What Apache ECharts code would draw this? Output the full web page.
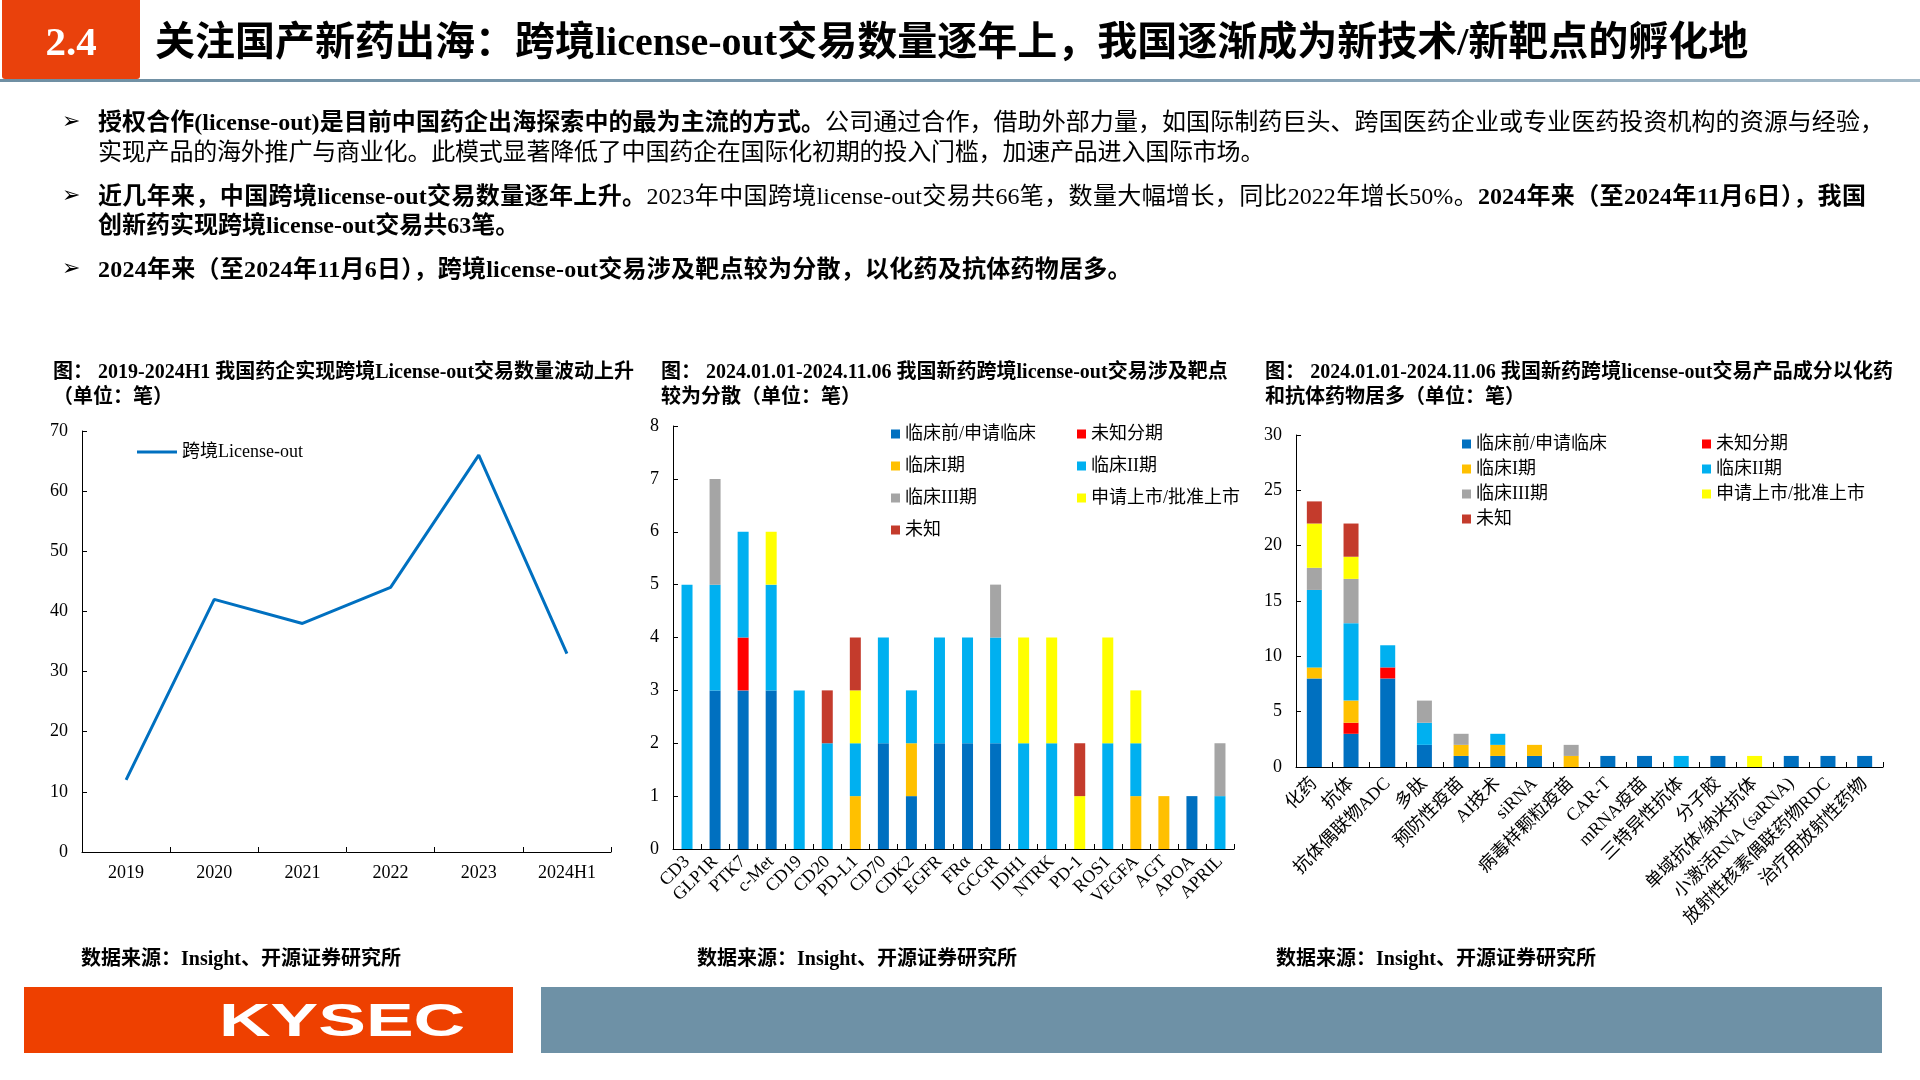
<!DOCTYPE html>
<html><head><meta charset="utf-8">
<script src="https://cdn.jsdelivr.net/npm/echarts@6/dist/echarts.min.js"></script>
<style>
html,body{margin:0;padding:0;}
body{width:1920px;height:1080px;overflow:hidden;background:#fff;position:relative;font-family:"Liberation Serif","Noto Sans CJK SC",serif;color:#000;}
#chart{position:absolute;left:0;top:0;width:1920px;height:1080px;}
.abs{position:absolute;white-space:nowrap;}
.hdrbox{left:2px;top:0;width:138px;height:79px;background:#E9410C;border-radius:0 0 3px 3px;}
.hdrnum{left:2px;top:0;width:138px;height:82px;line-height:82px;text-align:center;color:#fff;font-weight:bold;font-size:41px;font-family:"Liberation Serif",serif;}
.hdrline{left:0;top:79px;width:1920px;height:3px;background:linear-gradient(to right,#6f8fa3,#7d9bb0 60%,#a3b9c7);}
.hdrtitle{left:155px;top:17px;line-height:50px;font-size:40px;font-weight:bold;}
.bullet{font-family:"DejaVu Sans",sans-serif;font-size:22px;left:62px;line-height:26px;}
.body{left:98px;font-size:24px;line-height:30px;}
.just{text-align:justify;text-align-last:justify;}
b{font-weight:bold;}
.ctitle{font-size:20px;font-weight:bold;line-height:26px;}
.src{font-size:20px;font-weight:bold;line-height:26px;top:945px;}
.ftl{left:24px;top:987px;width:489px;height:66px;background:#EE4000;}
.ftr{left:541px;top:987px;width:1341px;height:66px;background:#6E91A6;}
.kysec{left:219px;top:987px;height:66px;line-height:66px;color:#fff;font-family:"Liberation Sans",sans-serif;font-weight:bold;font-size:47px;transform:scaleX(1.52);transform-origin:left center;}
</style></head>
<body>
<div id="chart"></div>

<div class="abs hdrbox"></div>
<div class="abs hdrnum">2.4</div>
<div class="abs hdrline"></div>
<div class="abs hdrtitle">关注国产新药出海：跨境license-out交易数量逐年上，我国逐渐成为新技术/新靶点的孵化地</div>

<div class="abs bullet" style="top:108px;">➢</div>
<div class="abs body just" style="top:107px;width:1786px;"><b>授权合作(license-out)是目前中国药企出海探索中的最为主流的方式。</b>公司通过合作，借助外部力量，如国际制药巨头、跨国医药企业或专业医药投资机构的资源与经验，</div>
<div class="abs body" style="top:137px;letter-spacing:-0.2px;">实现产品的海外推广与商业化。此模式显著降低了中国药企在国际化初期的投入门槛，加速产品进入国际市场。</div>

<div class="abs bullet" style="top:182px;">➢</div>
<div class="abs body just" style="top:181px;width:1768px;"><b>近几年来，中国跨境license-out交易数量逐年上升。</b>2023年中国跨境license-out交易共66笔，数量大幅增长，同比2022年增长50%。<b>2024年来（至2024年11月6日），我国</b></div>
<div class="abs body" style="top:210px;"><b>创新药实现跨境license-out交易共63笔。</b></div>

<div class="abs bullet" style="top:255px;">➢</div>
<div class="abs body" style="top:254px;letter-spacing:0.25px;"><b>2024年来（至2024年11月6日），跨境license-out交易涉及靶点较为分散，以化药及抗体药物居多。</b></div>

<div class="abs ctitle just" style="left:53px;top:358px;width:581px;">图： 2019-2024H1 我国药企实现跨境License-out交易数量波动上升</div>
<div class="abs ctitle" style="left:53px;top:383px;">（单位：笔）</div>

<div class="abs ctitle just" style="left:661px;top:358px;width:562px;">图： 2024.01.01-2024.11.06 我国新药跨境license-out交易涉及靶点</div>
<div class="abs ctitle" style="left:661px;top:383px;">较为分散（单位：笔）</div>

<div class="abs ctitle just" style="left:1265px;top:358px;width:628px;">图： 2024.01.01-2024.11.06 我国新药跨境license-out交易产品成分以化药</div>
<div class="abs ctitle" style="left:1265px;top:383px;">和抗体药物居多（单位：笔）</div>

<div class="abs src" style="left:81px;">数据来源：Insight、开源证券研究所</div>
<div class="abs src" style="left:697px;">数据来源：Insight、开源证券研究所</div>
<div class="abs src" style="left:1276px;">数据来源：Insight、开源证券研究所</div>

<div class="abs ftl"></div>
<div class="abs ftr"></div>
<div class="abs kysec">KYSEC</div>

<script>
// ---- Chart 1 data ----
const years = ['2019', '2020', '2021', '2022', '2023', '2024H1'];
const licenseOut = [12, 42, 38, 44, 66, 33];
const yTicks1 = [0, 10, 20, 30, 40, 50, 60, 70];

// ---- Stage series (shared) ----
const stageNames = ['临床前/申请临床', '未知分期', '临床I期', '临床II期', '临床III期', '申请上市/批准上市', '未知'];

// ---- Chart 2 data (targets) ----
const targets = ['CD3','GLP1R','PTK7','c-Met','CD19','CD20','PD-L1','CD70','CDK2','EGFR','FRα','GCGR','IDH1','NTRK','PD-1','ROS1','VEGFA','AGT','APOA','APRIL'];
const t_preclinical = [0,3,3,3,0,0,0,2,1,2,2,2,0,0,0,0,0,0,1,0];
const t_unknownPhase = [0,0,1,0,0,0,0,0,0,0,0,0,0,0,0,0,0,0,0,0];
const t_phase1 = [0,0,0,0,0,0,1,0,1,0,0,0,0,0,0,0,1,1,0,0];
const t_phase2 = [5,2,2,2,3,2,1,2,1,2,2,2,2,2,0,2,1,0,0,1];
const t_phase3 = [0,2,0,0,0,0,0,0,0,0,0,1,0,0,0,0,0,0,0,1];
const t_filing = [0,0,0,1,0,0,1,0,0,0,0,0,2,2,1,2,1,0,0,0];
const t_unknown = [0,0,0,0,0,1,1,0,0,0,0,0,0,0,1,0,0,0,0,0];
const yTicks2 = [0,1,2,3,4,5,6,7,8];

// ---- Chart 3 data (modalities) ----
const modalities = ['化药','抗体','抗体偶联物ADC','多肽','预防性疫苗','AI技术','siRNA','病毒样颗粒疫苗','CAR-T','mRNA疫苗','三特异性抗体','分子胶','单域抗体/纳米抗体','小激活RNA (saRNA)','放射性核素偶联药物RDC','治疗用放射性药物'];
const m_preclinical = [8,3,8,2,1,1,1,0,1,1,0,1,0,1,1,1];
const m_unknownPhase = [0,1,1,0,0,0,0,0,0,0,0,0,0,0,0,0];
const m_phase1 = [1,2,0,0,1,1,1,1,0,0,0,0,0,0,0,0];
const m_phase2 = [7,7,2,2,0,1,0,0,0,0,1,0,0,0,0,0];
const m_phase3 = [2,4,0,2,1,0,0,1,0,0,0,0,0,0,0,0];
const m_filing = [4,2,0,0,0,0,0,0,0,0,0,0,1,0,0,0];
const m_unknown = [2,3,0,0,0,0,0,0,0,0,0,0,0,0,0,0];
const yTicks3 = [0,5,10,15,20,25,30];

// ---- styling ----
const FONT = '"Liberation Serif","Noto Sans CJK SC",serif';
const stageColors = ['#0070C0', '#FF0000', '#FFC000', '#00B0F0', '#A5A5A5', '#FFFF00', '#C43B2C'];
const lineColor = '#0070C0';

const targetData = [t_preclinical, t_unknownPhase, t_phase1, t_phase2, t_phase3, t_filing, t_unknown];
const modalityData = [m_preclinical, m_unknownPhase, m_phase1, m_phase2, m_phase3, m_filing, m_unknown];

function catAxis(gi, data, rotate, margin) {
  return {
    type: 'category', gridIndex: gi, data: data, boundaryGap: true,
    axisLine: {show: true, lineStyle: {color: '#000', width: 1}},
    axisTick: {show: true, inside: true, length: 5, lineStyle: {color: '#000'}},
    axisLabel: {interval: 0, rotate: rotate, margin: margin, color: '#000', fontSize: 18, fontFamily: FONT},
    splitLine: {show: false}
  };
}
function valAxis(gi, ticks) {
  return {
    type: 'value', gridIndex: gi, min: ticks[0], max: ticks[ticks.length - 1],
    interval: ticks[1] - ticks[0],
    axisLine: {show: true, lineStyle: {color: '#000', width: 1}},
    axisTick: {show: true, inside: true, length: 5, lineStyle: {color: '#000'}},
    axisLabel: {margin: 14, color: '#000', fontSize: 18, fontFamily: FONT},
    splitLine: {show: false}
  };
}

const series = [{
  name: '跨境License-out', type: 'line', xAxisIndex: 0, yAxisIndex: 0,
  data: licenseOut, symbol: 'none', showSymbol: false,
  lineStyle: {color: lineColor, width: 3}, itemStyle: {color: lineColor}, z: 3
}];
stageNames.forEach((n, i) => {
  series.push({name: n, type: 'bar', stack: 'targets', xAxisIndex: 1, yAxisIndex: 1,
    data: targetData[i], barWidth: 11, itemStyle: {color: stageColors[i]}});
});
stageNames.forEach((n, i) => {
  series.push({name: n, type: 'bar', stack: 'modalities', xAxisIndex: 2, yAxisIndex: 2,
    data: modalityData[i], barWidth: 15, itemStyle: {color: stageColors[i]}});
});

function legend(left, top, names, gap) {
  return {
    left: left, top: top, orient: 'vertical', padding: 0, itemGap: gap,
    icon: 'rect', itemWidth: 9, itemHeight: 9, selectedMode: false,
    data: names,
    textStyle: {fontFamily: FONT, fontSize: 18, color: '#000', lineHeight: 20}
  };
}
const col1 = [stageNames[0], stageNames[2], stageNames[4], stageNames[6]];
const col2 = [stageNames[1], stageNames[3], stageNames[5]];

const option = {
  animation: false,
  grid: [
    {left: 82, top: 431, width: 529, height: 421},
    {left: 673, top: 426, width: 561, height: 423},
    {left: 1296, top: 435, width: 587, height: 332}
  ],
  xAxis: [catAxis(0, years, 0, 12), catAxis(1, targets, 45, 10), catAxis(2, modalities, 45, 14)],
  yAxis: [valAxis(0, yTicks1), valAxis(1, yTicks2), valAxis(2, yTicks3)],
  legend: [
    {left: 137, top: 442, padding: 0, icon: 'rect', itemWidth: 40, itemHeight: 3, selectedMode: false,
     data: ['跨境License-out'], textStyle: {fontFamily: FONT, fontSize: 18, color: '#000', lineHeight: 20}},
    legend(891, 424, col1, 12),
    legend(1077, 424, col2, 12),
    legend(1462, 434, col1, 5),
    legend(1702, 434, col2, 5)
  ],
  series: series
};
const chart = echarts.init(document.getElementById('chart'));
chart.setOption(option);
</script>
</body></html>
